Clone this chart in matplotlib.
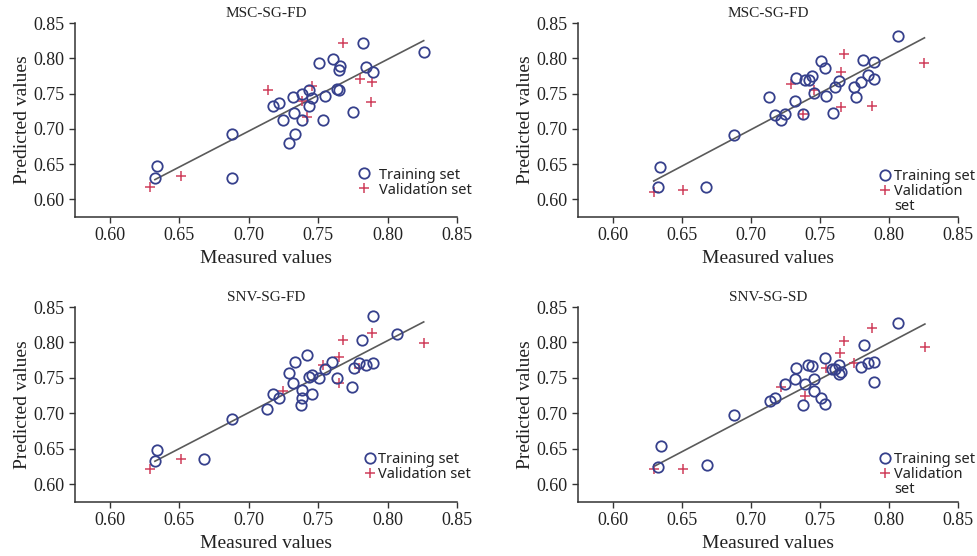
###############
# Bibliotecas #
###############
import matplotlib
matplotlib.use("Agg")
import matplotlib.pyplot as plt
from matplotlib.lines import Line2D

####################
# Dados de entrada #
####################

titulos = ["MSC-SG-FD", "MSC-SG-FD", "SNV-SG-FD", "SNV-SG-SD"]

# Painel 1 (superior esquerdo)
p1_train_x = [0.6337, 0.6325, 0.6877, 0.6877, 0.7178, 0.7221, 0.7250, 0.7317, 0.7327, 0.7330,
              0.7293, 0.7387, 0.7387, 0.7437, 0.7459, 0.7437, 0.7507, 0.7550, 0.7538, 0.7610,
              0.7659, 0.7649, 0.7635, 0.7647, 0.7750, 0.7820, 0.7846, 0.7892, 0.8260]
p1_train_y = [0.648, 0.630, 0.692, 0.630, 0.733, 0.737, 0.713, 0.745, 0.722, 0.692,
              0.680, 0.750, 0.713, 0.755, 0.744, 0.732, 0.794, 0.746, 0.713, 0.799,
              0.789, 0.783, 0.756, 0.755, 0.724, 0.821, 0.787, 0.780, 0.809]
p1_val_x = [0.6293, 0.6510, 0.7140, 0.7382, 0.7418, 0.7459, 0.7680, 0.7800, 0.7887, 0.7880]
p1_val_y = [0.618, 0.633, 0.755, 0.740, 0.717, 0.761, 0.822, 0.771, 0.766, 0.738]
p1_linha_x = [0.6325, 0.826]
p1_linha_y = [0.628, 0.825]

# Painel 2 (superior direito)
p2_train_x = [0.6346, 0.6327, 0.6678, 0.6877, 0.7135, 0.7178, 0.7216, 0.7250, 0.7322, 0.7327,
              0.7380, 0.7390, 0.7418, 0.7442, 0.7459, 0.7507, 0.7538, 0.7548, 0.7596, 0.7610,
              0.7640, 0.7748, 0.7764, 0.7796, 0.7813, 0.7850, 0.7892, 0.7892, 0.8067]
p2_train_y = [0.646, 0.617, 0.617, 0.691, 0.745, 0.720, 0.712, 0.721, 0.740, 0.772,
              0.721, 0.769, 0.769, 0.775, 0.751, 0.796, 0.786, 0.746, 0.723, 0.759,
              0.768, 0.759, 0.745, 0.766, 0.798, 0.776, 0.770, 0.795, 0.831]
p2_val_x = [0.6298, 0.6510, 0.7290, 0.7380, 0.7459, 0.7676, 0.7650, 0.7650, 0.7880, 0.8257]
p2_val_y = [0.610, 0.613, 0.763, 0.721, 0.755, 0.806, 0.781, 0.731, 0.733, 0.793]
p2_linha_x = [0.6298, 0.8257]
p2_linha_y = [0.626, 0.829]

# Painel 3 (inferior esquerdo)
p3_train_x = [0.6341, 0.6325, 0.6678, 0.6877, 0.7135, 0.7178, 0.7219, 0.7293, 0.7330, 0.7322,
              0.7385, 0.7385, 0.7375, 0.7418, 0.7433, 0.7459, 0.7459, 0.7507, 0.7550, 0.7598,
              0.7635, 0.7743, 0.7755, 0.7796, 0.7815, 0.7846, 0.7892, 0.7892, 0.8067]
p3_train_y = [0.649, 0.633, 0.635, 0.692, 0.706, 0.728, 0.722, 0.757, 0.772, 0.743,
              0.733, 0.722, 0.712, 0.783, 0.751, 0.754, 0.727, 0.750, 0.763, 0.773,
              0.750, 0.737, 0.764, 0.771, 0.803, 0.768, 0.771, 0.837, 0.812]
p3_val_x = [0.6293, 0.6510, 0.7245, 0.7538, 0.7647, 0.7678, 0.7647, 0.7796, 0.7887, 0.8260]
p3_val_y = [0.621, 0.636, 0.732, 0.768, 0.779, 0.804, 0.743, 0.764, 0.813, 0.799]
p3_linha_x = [0.6325, 0.826]
p3_linha_y = [0.6325, 0.829]

# Painel 4 (inferior direito)
p4_train_x = [0.6349, 0.6330, 0.6683, 0.6877, 0.7140, 0.7178, 0.7250, 0.7317, 0.7327, 0.7392,
              0.7380, 0.7411, 0.7440, 0.7459, 0.7459, 0.7507, 0.7536, 0.7536, 0.7591, 0.7610,
              0.7640, 0.7640, 0.7656, 0.7796, 0.7820, 0.7850, 0.7892, 0.7892, 0.8065]
p4_train_y = [0.654, 0.625, 0.627, 0.698, 0.717, 0.722, 0.741, 0.748, 0.764, 0.742,
              0.712, 0.768, 0.767, 0.749, 0.731, 0.722, 0.713, 0.778, 0.763, 0.763,
              0.768, 0.756, 0.758, 0.766, 0.796, 0.771, 0.772, 0.744, 0.827]
p4_val_x = [0.6298, 0.6510, 0.7221, 0.7389, 0.7543, 0.7647, 0.7676, 0.7748, 0.7880, 0.8260]
p4_val_y = [0.621, 0.621, 0.737, 0.724, 0.764, 0.785, 0.802, 0.771, 0.821, 0.793]
p4_linha_x = [0.6298, 0.826]
p4_linha_y = [0.625, 0.826]

ticks = [0.60, 0.65, 0.70, 0.75, 0.80, 0.85]
rotulos_ticks = ["0.60", "0.65", "0.70", "0.75", "0.80", "0.85"]

##########
# Estilo #
##########
cor_treino = "#36408c"
cor_valid = "#cf3f5b"
cor_linha = "#5a5a5a"
fonte_serif = ["Liberation Serif", "DejaVu Serif"]
fonte_legenda = ["Noto Sans", "DejaVu Sans"]

# posicao de cada painel [esq, baixo, larg, alt] em fracao da figura
posicoes = [[0.0768, 0.6097, 0.391, 0.3489],
            [0.5916, 0.6097, 0.389, 0.3489],
            [0.0768, 0.0971, 0.391, 0.3507],
            [0.5916, 0.0971, 0.389, 0.3507]]
# ancora da legenda (eixo) e espaco marcador-texto
ancoras = [(0.742, 0.255), (0.793, 0.246), (0.757, 0.257), (0.793, 0.257)]
espacos = [0.6, 0.2, 0.15, 0.2]
# nos paineis da direita o rotulo de validacao quebra em duas linhas
quebra = [False, True, False, True]

paineis = [
    (p1_train_x, p1_train_y, p1_val_x, p1_val_y, p1_linha_x, p1_linha_y),
    (p2_train_x, p2_train_y, p2_val_x, p2_val_y, p2_linha_x, p2_linha_y),
    (p3_train_x, p3_train_y, p3_val_x, p3_val_y, p3_linha_x, p3_linha_y),
    (p4_train_x, p4_train_y, p4_val_x, p4_val_y, p4_linha_x, p4_linha_y),
]

########################
# Plotando os Graficos #
########################
fig = plt.figure(figsize=(9.77, 5.56), dpi=100)

for i, (tx, ty, vx, vy, lx, ly) in enumerate(paineis):
    ax = fig.add_axes(posicoes[i])

    # linha de ajuste
    ax.plot(lx, ly, color=cor_linha, lw=1.2, zorder=1)

    # conjunto de treinamento e de validacao
    h_treino, = ax.plot(tx, ty, 'o', mfc='none', mec=cor_treino, mew=1.3, ms=7.5,
                        zorder=3)
    h_valid, = ax.plot(vx, vy, '+', color=cor_valid, mew=1.1, ms=7, zorder=2)

    ax.set_xlim(0.575, 0.85)
    ax.set_ylim(0.575, 0.85)
    ax.set_xticks(ticks)
    ax.set_xticklabels(rotulos_ticks, family=fonte_serif, fontsize=13)
    ax.set_yticks(ticks)
    ax.set_yticklabels(rotulos_ticks, family=fonte_serif, fontsize=13)
    ax.tick_params(direction='out', length=4.5, width=1, color='#333333',
                   labelcolor='#222222', pad=3)

    for lado in ['top', 'right']:
        ax.spines[lado].set_visible(False)
    for lado in ['left', 'bottom']:
        ax.spines[lado].set_color('#333333')
        ax.spines[lado].set_linewidth(1.1)

    ax.set_xlabel("Measured values", family=fonte_serif, fontsize=14,
                  color='#222222', labelpad=4)
    ax.set_ylabel("Predicted values", family=fonte_serif, fontsize=14,
                  color='#222222', labelpad=2)
    ax.set_title(titulos[i], family=fonte_serif, fontsize=11, pad=4,
                 color='#222222')

    # legenda
    if quebra[i]:
        handles = [h_treino, h_valid, Line2D([], [], linestyle='none')]
        labels = ["Training set", "Validation", "set"]
    else:
        handles = [h_treino, h_valid]
        labels = ["Training set", "Validation set"]
    leg = ax.legend(handles, labels, loc='upper left', bbox_to_anchor=ancoras[i],
                    frameon=False, borderpad=0, borderaxespad=0, handlelength=0.8,
                    handletextpad=espacos[i], labelspacing=0.0,
                    prop={'family': fonte_legenda, 'size': 10.5})
    for t in leg.get_texts():
        t.set_color('#222222')

fig.savefig("out.png", dpi=100)
